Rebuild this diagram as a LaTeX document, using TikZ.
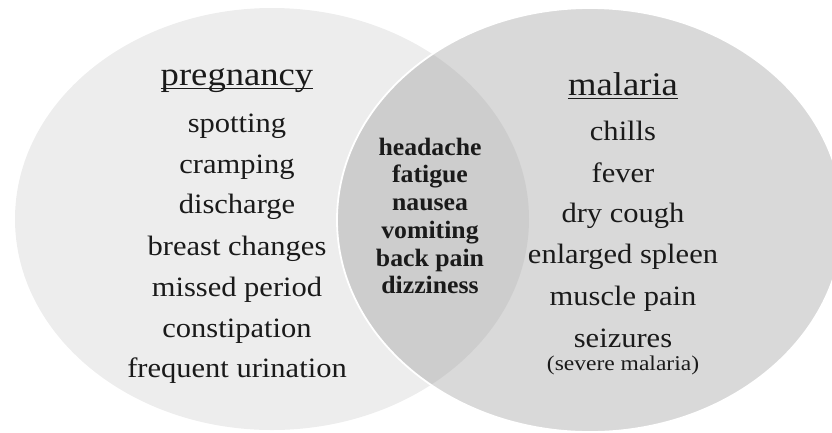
\documentclass[tikz,border=0pt]{standalone}
\usepackage{fontspec}
\setmainfont{Liberation Serif}
\definecolor{leftfill}{HTML}{EDEDED}
\definecolor{rightfill}{HTML}{D9D9D9}
\definecolor{overfill}{HTML}{CDCDCD}
\definecolor{ink}{HTML}{1A1A1A}
\newcommand\wideit[2]{\scalebox{#1}[1]{#2}}
\begin{document}
\begin{tikzpicture}[x=1pt,y=-1pt,
  item/.style={anchor=base, inner sep=0pt, text=ink, font=\fontsize{28}{32}\selectfont},
  title/.style={anchor=base, inner sep=0pt, text=ink, font=\fontsize{33}{38}\selectfont},
  common/.style={anchor=base, inner sep=0pt, text=ink, font=\fontsize{25}{28}\selectfont\bfseries},
  small/.style={anchor=base, inner sep=0pt, text=ink, font=\fontsize{21}{24}\selectfont},
  uline/.style={draw=ink, line width=1.4pt}]
\useasboundingbox (0,0) rectangle (832,432);
% sets
\fill[leftfill] (272,219) ellipse [x radius=257, y radius=211];
\fill[rightfill] (590,220) ellipse [x radius=253, y radius=212];
\begin{scope}
  \clip (272,219) ellipse [x radius=257, y radius=211];
  \fill[overfill] (590,220) ellipse [x radius=253, y radius=212];
\end{scope}
\draw[white, line width=1.8pt] (590,220) ellipse [x radius=253, y radius=212];
% pregnancy
\node[title] (pt) at (237,85) {\wideit{1.11}{pregnancy}};
\draw[uline] ([yshift=-3.5pt]pt.base west) -- ([yshift=-3.5pt]pt.base east);
\node[item] (p1) at (237,132) {\wideit{1.09}{spotting}};
\node[item] (p2) at (237,173) {\wideit{1.09}{cramping}};
\node[item] (p3) at (237,213) {\wideit{1.09}{discharge}};
\node[item] (p4) at (237,255) {\wideit{1.09}{breast changes}};
\node[item] (p5) at (237,296) {\wideit{1.09}{missed period}};
\node[item] (p6) at (237,337) {\wideit{1.09}{constipation}};
\node[item] (p7) at (237,377) {\wideit{1.09}{frequent urination}};
% common
\node[common] (c1) at (430,155) {\wideit{1.03}{headache}};
\node[common] (c2) at (430,182) {\wideit{1.03}{fatigue}};
\node[common] (c3) at (430,210) {\wideit{1.03}{nausea}};
\node[common] (c4) at (430,238) {\wideit{1.03}{vomiting}};
\node[common] (c5) at (430,266) {\wideit{1.03}{back pain}};
\node[common] (c6) at (430,293) {\wideit{1.03}{dizziness}};
% malaria
\node[title] (mt) at (623,95) {\wideit{1.11}{malaria}};
\draw[uline] ([yshift=-3.5pt]mt.base west) -- ([yshift=-3.5pt]mt.base east);
\node[item] (m1) at (623,140) {\wideit{1.09}{chills}};
\node[item] (m2) at (623,182) {\wideit{1.09}{fever}};
\node[item] (m3) at (623,222) {\wideit{1.09}{dry cough}};
\node[item] (m4) at (623,263) {\wideit{1.09}{enlarged spleen}};
\node[item] (m5) at (623,305) {\wideit{1.09}{muscle pain}};
\node[item] (m6) at (623,347) {\wideit{1.09}{seizures}};
\node[small] (m7) at (623,370) {\wideit{1.12}{(severe malaria)}};
\end{tikzpicture}
\end{document}
